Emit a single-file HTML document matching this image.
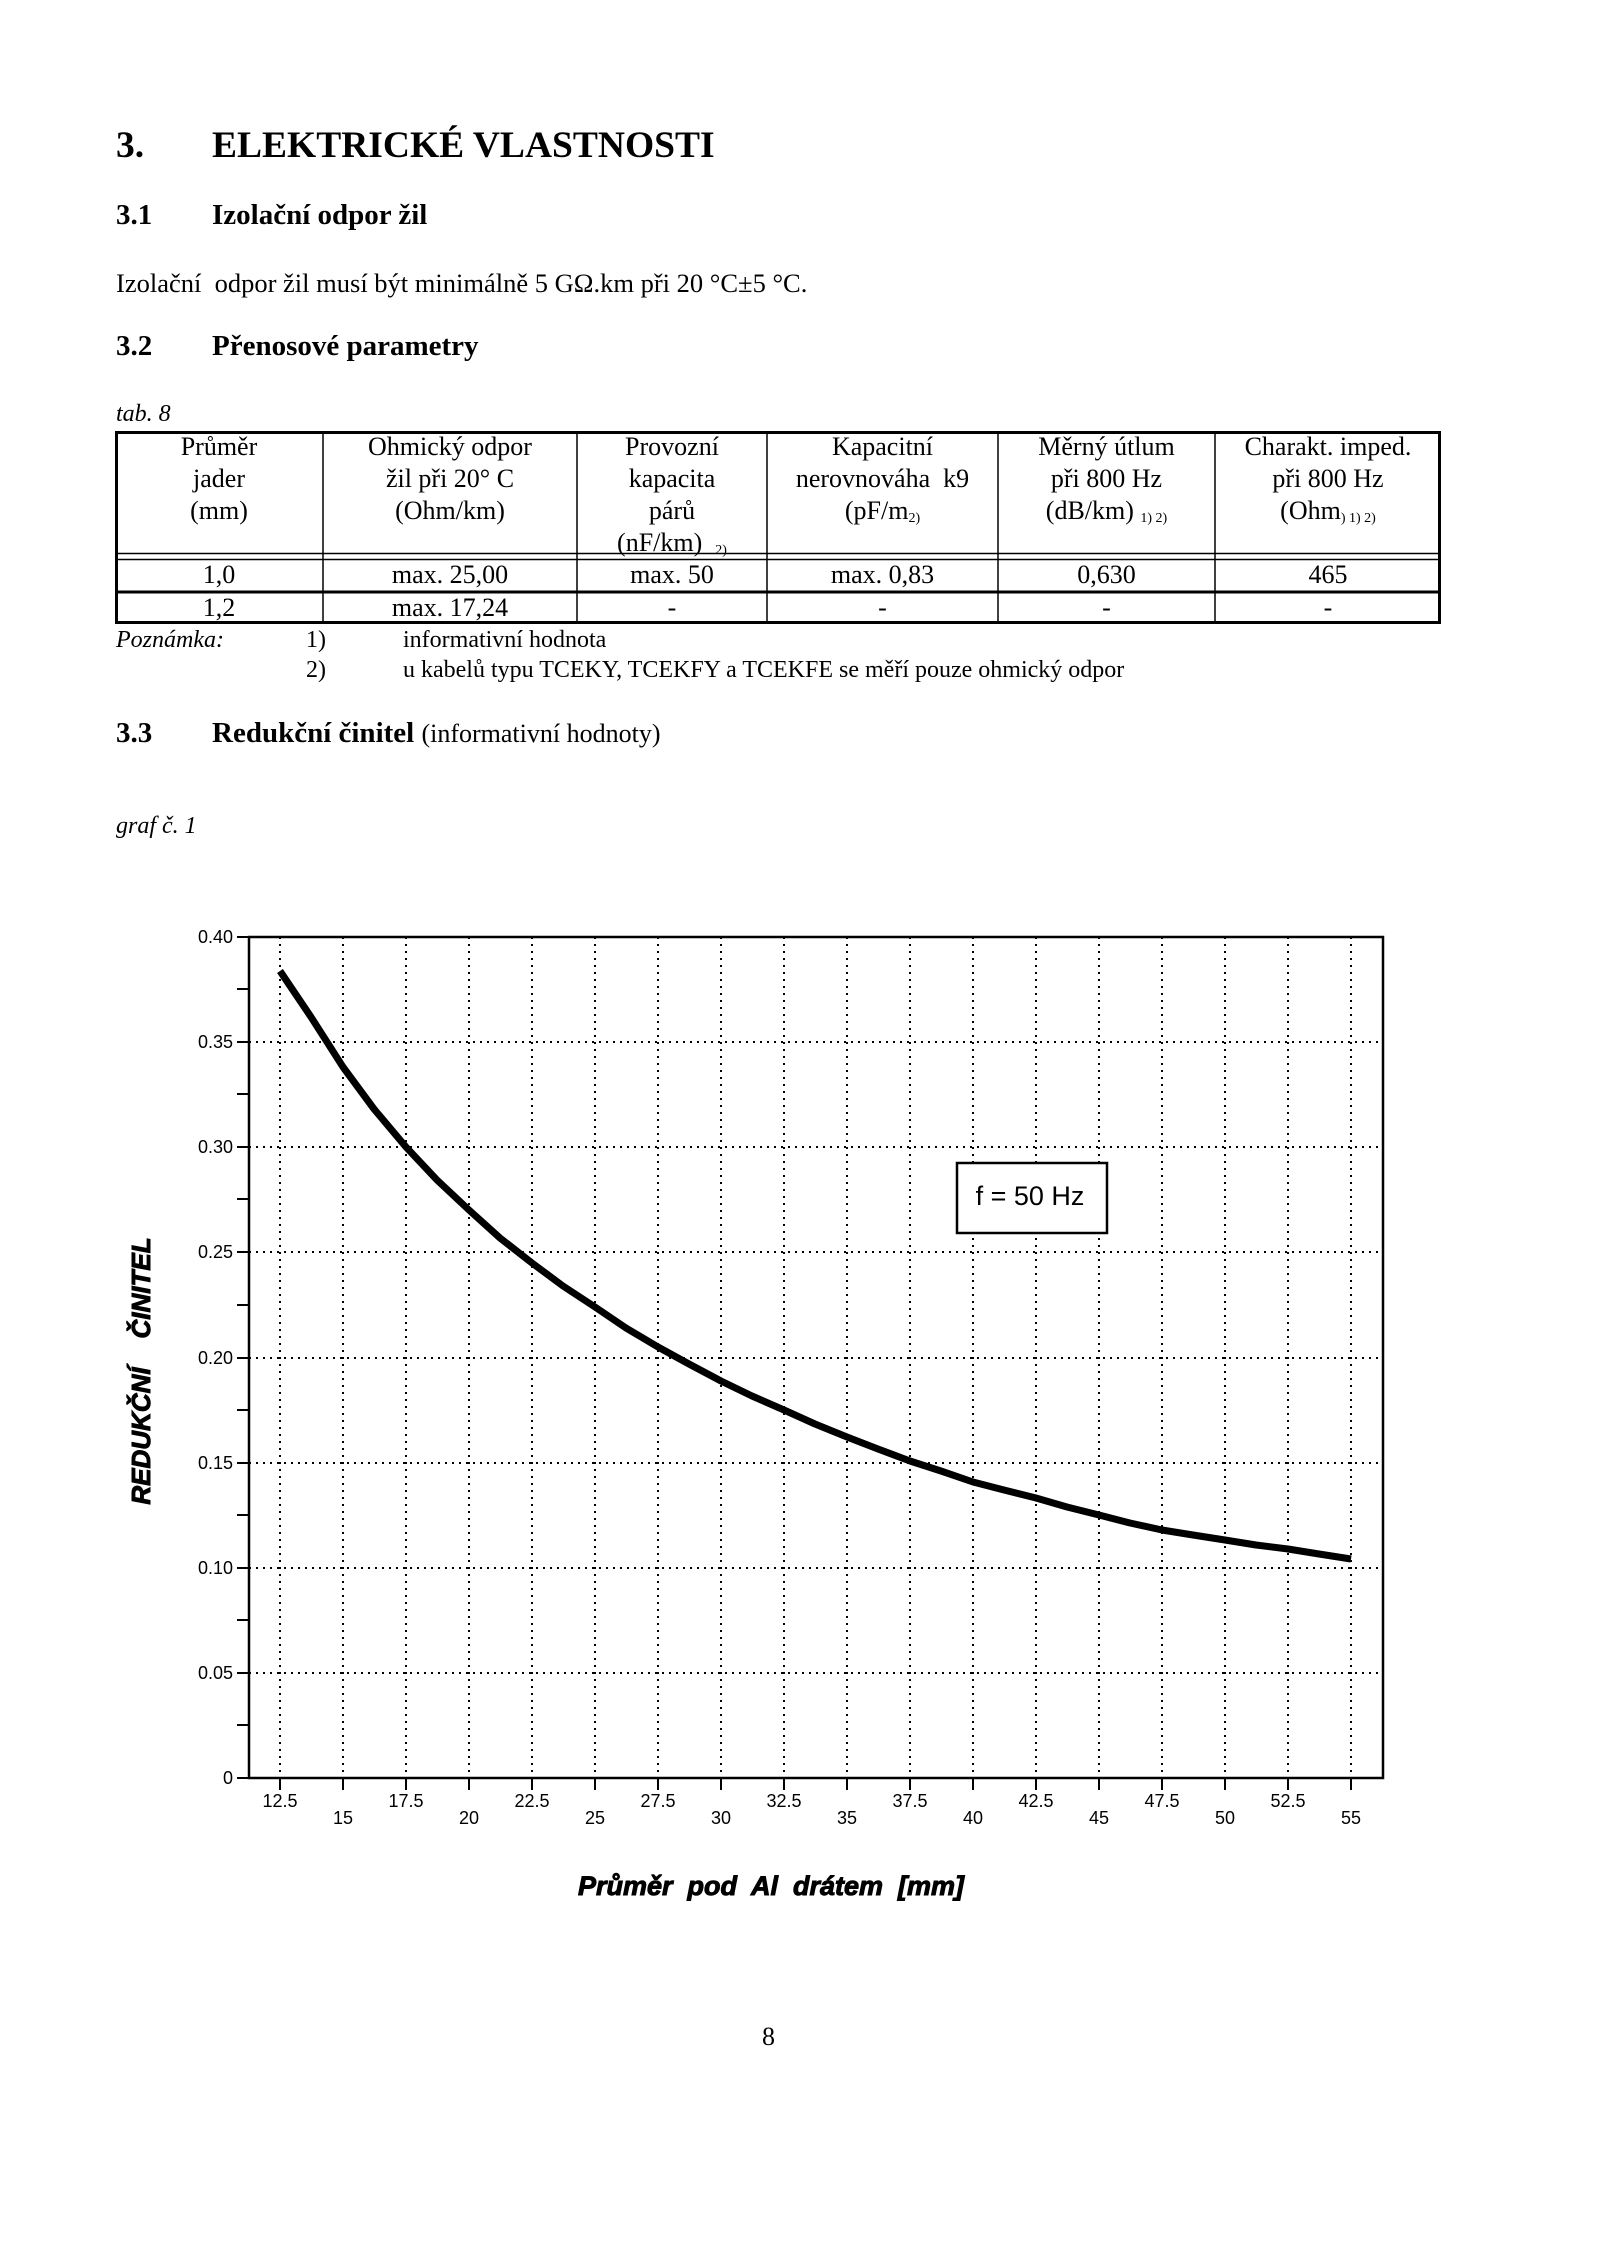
<!DOCTYPE html>
<html><head><meta charset="utf-8">
<style>
body{margin:0;background:#fff;}
#p{position:relative;width:1600px;height:2264px;overflow:hidden;font-family:"Liberation Serif",serif;color:#000;}
.t{position:absolute;white-space:nowrap;}
.b{font-weight:bold;}
.c{position:absolute;text-align:center;font-size:26px;line-height:32px;white-space:nowrap;}
sub{font-size:14px;vertical-align:-3px;}
</style></head><body><div id="p">
<div class="t b" style="left:116px;top:124px;font-size:37.5px;">3.</div>
<div class="t b" style="left:212px;top:124px;font-size:37.5px;">ELEKTRICKÉ VLASTNOSTI</div>
<div class="t b" style="left:116px;top:199px;font-size:29px;">3.1</div>
<div class="t b" style="left:212px;top:199px;font-size:29px;">Izolační odpor žil</div>
<div class="t" style="left:116px;top:268px;font-size:26.5px;">Izolační&nbsp; odpor žil musí být minimálně 5 GΩ.km při 20 °C±5 °C.</div>
<div class="t b" style="left:116px;top:330px;font-size:29px;">3.2</div>
<div class="t b" style="left:212px;top:330px;font-size:29px;">Přenosové parametry</div>
<div class="t" style="left:116px;top:401px;font-size:24px;font-style:italic;">tab. 8</div>

<div class="c" style="left:115px;width:208px;top:431px;">Průměr<br>jader<br>(mm)</div>
<div class="c" style="left:323px;width:254px;top:431px;">Ohmický odpor<br>žil při 20° C<br>(Ohm/km)</div>
<div class="c" style="left:577px;width:190px;top:431px;">Provozní<br>kapacita<br>párů<br>(nF/km) &nbsp;<sub>2)</sub></div>
<div class="c" style="left:767px;width:231px;top:431px;">Kapacitní<br>nerovnováha&nbsp; k9<br>(pF/m<sub>2)</sub></div>
<div class="c" style="left:998px;width:217px;top:431px;">Měrný útlum<br>při 800 Hz<br>(dB/km) <sub>1) 2)</sub></div>
<div class="c" style="left:1215px;width:226px;top:431px;">Charakt. imped.<br>při 800 Hz<br>(Ohm<sub>) 1) 2)</sub></div>
<div class="c" style="left:115px;width:208px;top:559px;">1,0</div>
<div class="c" style="left:323px;width:254px;top:559px;">max. 25,00</div>
<div class="c" style="left:577px;width:190px;top:559px;">max. 50</div>
<div class="c" style="left:767px;width:231px;top:559px;">max. 0,83</div>
<div class="c" style="left:998px;width:217px;top:559px;">0,630</div>
<div class="c" style="left:1215px;width:226px;top:559px;">465</div>
<div class="c" style="left:115px;width:208px;top:592px;">1,2</div>
<div class="c" style="left:323px;width:254px;top:592px;">max. 17,24</div>
<div class="c" style="left:577px;width:190px;top:592px;">-</div>
<div class="c" style="left:767px;width:231px;top:592px;">-</div>
<div class="c" style="left:998px;width:217px;top:592px;">-</div>
<div class="c" style="left:1215px;width:226px;top:592px;">-</div>

<div class="t" style="left:116px;top:627px;font-size:24px;font-style:italic;">Poznámka:</div>
<div class="t" style="left:306px;top:627px;font-size:24px;">1)</div>
<div class="t" style="left:403px;top:627px;font-size:24px;">informativní hodnota</div>
<div class="t" style="left:306px;top:657px;font-size:24px;">2)</div>
<div class="t" style="left:403px;top:657px;font-size:24px;">u kabelů typu TCEKY, TCEKFY a TCEKFE se měří pouze ohmický odpor</div>
<div class="t" style="left:116px;top:717px;font-size:29px;"><b>3.3</b></div>
<div class="t" style="left:212px;top:717px;font-size:29px;"><b>Redukční činitel</b> <span style="font-size:26px">(informativní hodnoty)</span></div>
<div class="t" style="left:116px;top:813px;font-size:24px;font-style:italic;">graf č. 1</div>
<div class="t" style="left:762px;top:2022px;font-size:26px;">8</div>

<svg width="1600" height="2264" style="position:absolute;left:0;top:0" xmlns="http://www.w3.org/2000/svg">
<g stroke="#000" fill="none">
<rect x="116.5" y="432.5" width="1323" height="190" stroke-width="3"/>
<path d="M116 553.5H1440M116 559.5H1440" stroke-width="1.5"/>
<path d="M116 592H1440" stroke-width="3"/>
<path d="M323 432V622M577 432V622M767 432V622M998 432V622M1215 432V622" stroke-width="1.5"/>
</g>
<g stroke="#000" stroke-width="2" stroke-dasharray="2,5" fill="none">
<path d="M280 937V1778M343 937V1778M406 937V1778M469 937V1778M532 937V1778M595 937V1778M658 937V1778M721 937V1778M784 937V1778M847 937V1778M910 937V1778M973 937V1778M1036 937V1778M1099 937V1778M1162 937V1778M1225 937V1778M1288 937V1778M1351 937V1778"/>
<path d="M249 1042H1383M249 1147H1383M249 1252H1383M249 1358H1383M249 1463H1383M249 1568H1383M249 1673H1383"/>
</g>
<rect x="249" y="937" width="1134" height="841" fill="none" stroke="#000" stroke-width="2.5"/>
<g stroke="#000" stroke-width="2">
<path d="M237 937H249M237 989H249M237 1042H249M237 1094H249M237 1147H249M237 1199H249M237 1252H249M237 1305H249M237 1358H249M237 1410H249M237 1463H249M237 1515H249M237 1568H249M237 1620H249M237 1673H249M237 1725H249M237 1778H249"/>
<path d="M280 1778V1790M343 1778V1790M406 1778V1790M469 1778V1790M532 1778V1790M595 1778V1790M658 1778V1790M721 1778V1790M784 1778V1790M847 1778V1790M910 1778V1790M973 1778V1790M1036 1778V1790M1099 1778V1790M1162 1778V1790M1225 1778V1790M1288 1778V1790M1351 1778V1790"/>
</g>
<g font-family="Liberation Sans, sans-serif" font-size="18" text-anchor="end">
<text x="233" y="943">0.40</text><text x="233" y="1048">0.35</text><text x="233" y="1153">0.30</text><text x="233" y="1258">0.25</text><text x="233" y="1364">0.20</text><text x="233" y="1469">0.15</text><text x="233" y="1574">0.10</text><text x="233" y="1679">0.05</text><text x="233" y="1784">0</text>
</g>
<g font-family="Liberation Sans, sans-serif" font-size="18" text-anchor="middle">
<text x="280" y="1807">12.5</text><text x="406" y="1807">17.5</text><text x="532" y="1807">22.5</text><text x="658" y="1807">27.5</text><text x="784" y="1807">32.5</text><text x="910" y="1807">37.5</text><text x="1036" y="1807">42.5</text><text x="1162" y="1807">47.5</text><text x="1288" y="1807">52.5</text>
<text x="343" y="1824">15</text><text x="469" y="1824">20</text><text x="595" y="1824">25</text><text x="721" y="1824">30</text><text x="847" y="1824">35</text><text x="973" y="1824">40</text><text x="1099" y="1824">45</text><text x="1225" y="1824">50</text><text x="1351" y="1824">55</text>
</g>
<polyline fill="none" stroke="#000" stroke-width="7" stroke-linejoin="round" points="280,971 311,1017 343,1067 374,1109 406,1147 437,1180 469,1210 500,1238 532,1263 563,1286 595,1307 626,1328 658,1347 689,1364 721,1381 752,1396 784,1410 815,1424 847,1437 878,1449 910,1461 941,1471 973,1482 1004,1490 1036,1498 1067,1507 1099,1515 1130,1523 1162,1530 1193,1535 1225,1540 1256,1545 1288,1549 1319,1554 1351,1559"/>
<rect x="957" y="1163" width="150" height="70" fill="#fff" stroke="#000" stroke-width="2.5"/>
<text x="1030" y="1205" font-family="Liberation Sans, sans-serif" font-size="27" text-anchor="middle">f = 50 Hz</text>
<text transform="translate(150,1371) rotate(-90)" font-family="Liberation Sans, sans-serif" font-size="26" font-weight="bold" font-style="italic" text-anchor="middle" stroke="#000" stroke-width="1">REDUKČNÍ&#160;&#160;&#160;&#160;ČINITEL</text>
<text x="771" y="1895" font-family="Liberation Sans, sans-serif" font-size="27" font-weight="bold" font-style="italic" text-anchor="middle" stroke="#000" stroke-width="1" xml:space="preserve">Průměr  pod  Al  drátem  [mm]</text>
</svg>
</div></body></html>
